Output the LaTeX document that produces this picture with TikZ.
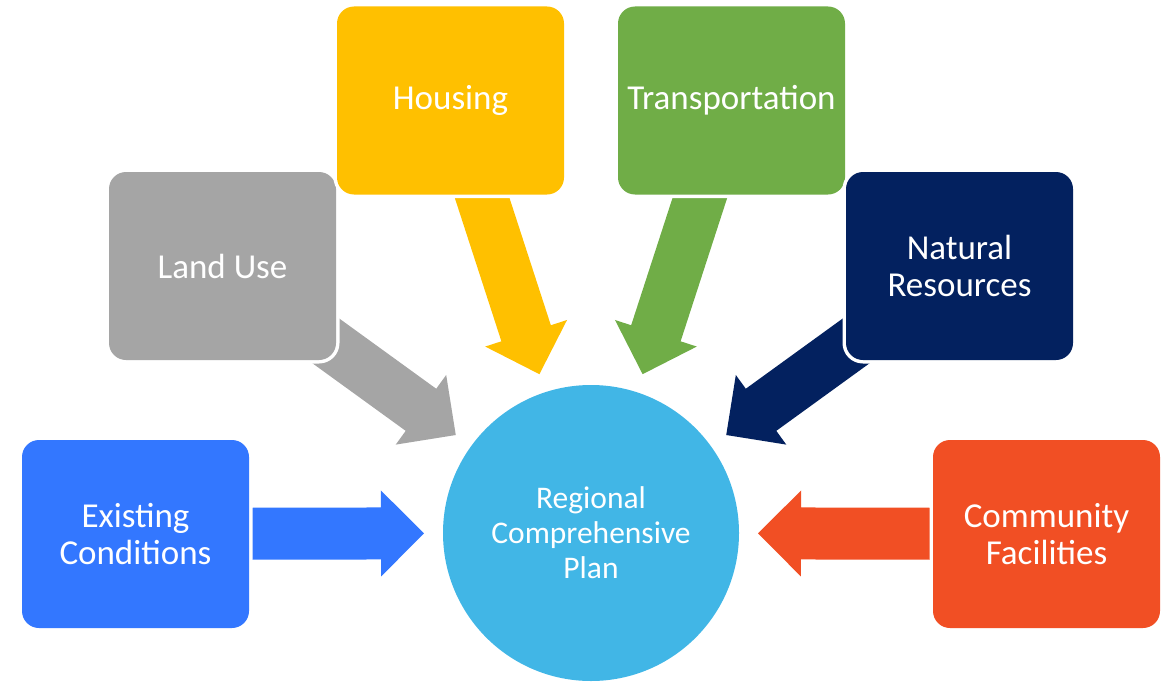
\documentclass[tikz,border=0pt]{standalone}
\usepackage{fontspec}
\setmainfont{Carlito}
\usetikzlibrary{calc}
\pgfdeclarelayer{bg}
\pgfsetlayers{bg,main}
\definecolor{cblue}{HTML}{3377FF}
\definecolor{cgray}{HTML}{A5A5A5}
\definecolor{cyellow}{HTML}{FFC000}
\definecolor{cgreen}{HTML}{70AD47}
\definecolor{cnavy}{HTML}{03215F}
\definecolor{corange}{HTML}{F14F24}
\definecolor{chub}{HTML}{41B6E6}
\tikzset{
  box/.style={rectangle, rounded corners=17pt, minimum width=227pt, minimum height=188pt,
    inner sep=0pt, align=center, text=white, font=\fontsize{35}{37}\selectfont,
    preaction={draw=white, line width=7pt}},
  hub/.style={circle, minimum size=296pt, inner sep=0pt, fill=chub, text=white,
    align=center, font=\fontsize{31.5}{35}\selectfont},
}
\newcommand\blockarrow[3]{%
  \coordinate (#2-#3-b) at ($(#3)!43pt!(#2.center)$);
  \fill[#1] ($(#2.center)!26pt!90:(#3)$) -- ($(#2-#3-b)!26pt!90:(#3)$) -- ($(#2-#3-b)!43pt!90:(#3)$)
    -- (#3) -- ($(#2-#3-b)!43pt!-90:(#3)$) -- ($(#2-#3-b)!26pt!-90:(#3)$)
    -- ($(#2.center)!26pt!-90:(#3)$) -- cycle;
}
\begin{document}
\begin{tikzpicture}[x=1pt,y=-1pt]
\useasboundingbox (0,0) rectangle (1166,682);
\node[hub] (hub) at (591,533) {Regional\\Comprehensive\\Plan};
\node[box, fill=cblue]   (ex) at (135.5,534)  {Existing\\Conditions};
\node[box, fill=cgray]   (lu) at (222.5,266)  {Land Use};
\node[box, fill=cyellow] (ho) at (450.5,100.5) {Housing};
\node[box, fill=cgreen]  (tr) at (731.5,100.5) {Transportation};
\node[box, fill=cnavy]   (nr) at (959.5,266)  {Natural\\Resources};
\node[box, fill=corange] (cf) at (1046.5,534) {Community\\Facilities};
\foreach \b in {ex,lu,ho,tr,nr,cf}{
  \coordinate (t\b) at ($(hub.center)!167pt!(\b.center)$);
}
\begin{pgfonlayer}{bg}
\blockarrow{cblue}{ex}{tex}
\blockarrow{cgray}{lu}{tlu}
\blockarrow{cyellow}{ho}{tho}
\blockarrow{cgreen}{tr}{ttr}
\blockarrow{cnavy}{nr}{tnr}
\blockarrow{corange}{cf}{tcf}
\end{pgfonlayer}
\end{tikzpicture}
\end{document}
